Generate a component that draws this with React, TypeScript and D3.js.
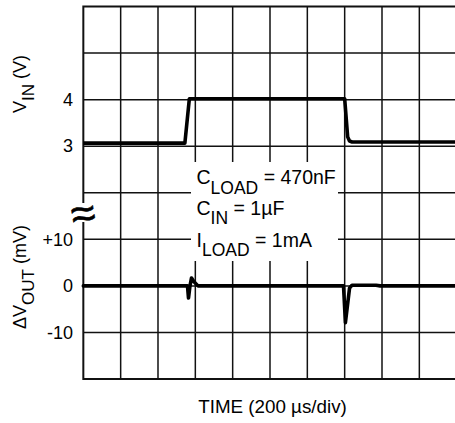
import React from "react";
import * as d3 from "d3";

const W = 455;
const H = 423;

// time in divisions (200 µs/div)
const vinTime = [0, 2.72, 2.84, 7.0, 7.08, 7.13, 7.2, 10];
const vinValue = [3.065, 3.065, 4.02, 4.02, 3.2, 3.11, 3.09, 3.09];

const dvTime = [0, 2.79, 2.817, 2.857, 2.898, 2.964, 3.072, 6.969, 7.02, 7.13, 7.197, 7.84, 7.95, 10];
const dvValue = [0, 0, -2.6, 0, 1.7, 0.9, 0, 0, -7.9, -0.5, 0.15, 0.15, 0, 0];

const vinTicks = [4, 3];
const dvTicks = [10, 0, -10];
const dvTickLabels = ["+10", "0", "-10"];

const xDivs = d3.range(0, 11);
const yDivs = d3.range(0, 9);

const FONT = "'Liberation Sans', Arial, Helvetica, sans-serif";

export default function App() {
  const x = d3.scaleLinear().domain([0, 10]).range([83.33, 456.67]);
  const gy = d3.scaleLinear().domain([0, 8]).range([6.5, 379]);
  const yVin = (v: number) => gy(2 + (4 - v));
  const yDv = (d: number) => gy(6 - d / 10);

  const vinLine = d3
    .line<number>()
    .x((_, i) => x(vinTime[i]))
    .y((v) => yVin(v));
  const dvLine = d3
    .line<number>()
    .x((_, i) => x(dvTime[i]))
    .y((v) => yDv(v));

  const left = x(0);
  const right = x(10);
  const top = gy(0);
  const bottom = gy(8);

  return (
    <svg
      width={W}
      height={H}
      style={{ position: "absolute", left: 0, top: 0, background: "#fff" }}
      fontFamily={FONT}
    >
      <rect x={0} y={0} width={W} height={H} fill="#fff" />
      {/* grid */}
      <g stroke="#111" strokeWidth={1.5}>
        {xDivs.slice(1, 10).map((d) => (
          <line key={"v" + d} x1={x(d)} x2={x(d)} y1={top} y2={bottom} />
        ))}
        {yDivs.slice(1, 8).map((d) => (
          <line key={"h" + d} x1={left} x2={right} y1={gy(d)} y2={gy(d)} />
        ))}
      </g>
      <rect x={left} y={top} width={right - left} height={bottom - top} fill="none" stroke="#111" strokeWidth={2} />

      {/* annotation box */}
      <rect x={191} y={162} width={147} height={99} fill="#fff" />
      <g fill="#000" fontSize={19.5}>
        <text x={196.5} y={183.5}>
          C<tspan dy={10} fontSize={17.5}>LOAD</tspan>
          <tspan dy={-10}> = 470nF</tspan>
        </text>
        <text x={196.5} y={215}>
          C<tspan dy={9} fontSize={17.5}>IN</tspan>
          <tspan dy={-9}> = 1µF</tspan>
        </text>
        <text x={196.5} y={246.5}>
          I<tspan dy={9} fontSize={17.5}>LOAD</tspan>
          <tspan dy={-9}> = 1mA</tspan>
        </text>
      </g>

      {/* traces */}
      <path d={vinLine(vinValue) || ""} fill="none" stroke="#000" strokeWidth={3.6} strokeLinejoin="round" />
      <path d={dvLine(dvValue) || ""} fill="none" stroke="#000" strokeWidth={3.6} strokeLinejoin="round" strokeLinecap="round" />

      {/* axis break */}
      <rect x={77} y={203} width={13} height={19} fill="#fff" />
      <text
        x={83}
        y={213}
        fontSize={44}
        textAnchor="middle"
        dominantBaseline="central"
        stroke="#000"
        strokeWidth={0.6}
        transform="rotate(-10 83 213)"
      >
        ≈
      </text>

      {/* tick labels */}
      <g fontSize={18} textAnchor="end" fill="#000">
        {vinTicks.map((v) => (
          <text key={"vt" + v} x={73} y={yVin(v)} dy="0.35em">
            {v}
          </text>
        ))}
        {dvTicks.map((d, i) => (
          <text key={"dt" + d} x={73} y={yDv(d)} dy="0.35em">
            {dvTickLabels[i]}
          </text>
        ))}
      </g>

      {/* axis titles */}
      <text transform="translate(26,84) rotate(-90)" textAnchor="middle" fontSize={18}>
        V<tspan dy={8} fontSize={17}>IN</tspan>
        <tspan dy={-8}> (V)</tspan>
      </text>
      <text transform="translate(26,277) rotate(-90)" textAnchor="middle" fontSize={18}>
        ΔV<tspan dy={8} fontSize={17}>OUT</tspan>
        <tspan dy={-8}> (mV)</tspan>
      </text>
      <text x={272.5} y={413} textAnchor="middle" fontSize={18.8}>
        TIME (200 µs/div)
      </text>
    </svg>
  );
}
